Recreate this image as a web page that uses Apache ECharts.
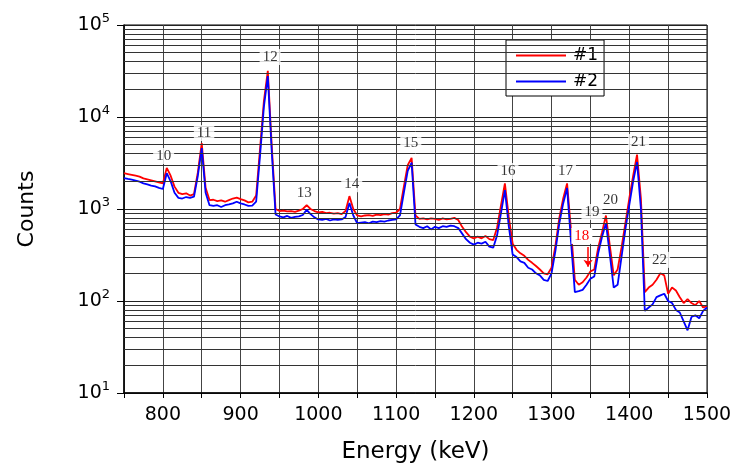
<!DOCTYPE html>
<html>
<head>
<meta charset="utf-8">
<script src="https://cdn.jsdelivr.net/npm/echarts@6/dist/echarts.min.js"></script>
<style>
  html, body { margin: 0; padding: 0; background: #fff; }
  #spectrum { width: 735px; height: 466px; }
</style>
</head>
<body>
<div id="spectrum"></div>
<script>
// energies in keV, 5 keV steps from 750 to 1500
const energy = [];
for (let e = 750; e <= 1500; e += 5) energy.push(e);

// counts, detector #1 (red)
const counts1 = [
  2450, 2400, 2350, 2300, 2250, 2150, 2100, 2050, 2000, 1950,
  1900, 2800, 2300, 1750, 1500, 1450, 1480, 1400, 1450, 2500,
  5200, 1700, 1250, 1260, 1220, 1240, 1200, 1250, 1300, 1330,
  1280, 1240, 1180, 1200, 1400, 4500, 15000, 31800, 5000, 1000,
  950, 960, 940, 950, 930, 960, 1000, 1100, 1000, 950,
  920, 930, 900, 910, 890, 900, 880, 950, 1380, 1000,
  850, 830, 850, 860, 840, 870, 860, 880, 870, 900,
  910, 1000, 1750, 3000, 3600, 850, 780, 790, 770, 790,
  780, 760, 790, 770, 780, 800, 760, 640, 560, 500,
  480, 500, 480, 510, 470, 460, 630, 1100, 1900, 820,
  420, 360, 330, 310, 280, 260, 240, 220, 200, 195,
  230, 400, 800, 1300, 1900, 600, 170, 150, 160, 180,
  210, 220, 380, 560, 850, 400, 190, 220, 380, 700,
  1300, 2300, 3900, 1300, 125, 140, 150, 170, 200, 190,
  120, 140, 130, 110, 95, 105, 95, 90, 100, 85,
  88
];

// detector #2 (blue)
const counts2 = [
  2170, 2120, 2080, 2030, 1980, 1900, 1850, 1800, 1760, 1700,
  1650, 2450, 2000, 1500, 1320, 1300, 1350, 1320, 1360, 2300,
  4600, 1500, 1100, 1080, 1100, 1050, 1100, 1120, 1150, 1200,
  1150, 1120, 1080, 1090, 1200, 3800, 13000, 27900, 4300, 870,
  830, 810, 840, 800, 820, 830, 860, 980, 880, 810,
  770, 760, 780, 750, 770, 760, 770, 820, 1160, 850,
  700, 710, 720, 700, 730, 720, 740, 730, 750, 760,
  770, 850, 1500, 2600, 3200, 680, 640, 620, 650, 600,
  640, 620, 650, 640, 660, 650, 620, 540, 470, 430,
  410, 430, 420, 440, 390, 380, 520, 900, 1600, 650,
  320, 300, 270, 260, 230, 220, 200, 190, 170, 165,
  200, 350, 700, 1150, 1690, 450, 125, 128, 132, 150,
  175, 185, 330, 500, 700, 320, 140, 150, 300, 600,
  1100, 2000, 3240, 1000, 78, 85, 92, 110, 115, 120,
  100, 95, 80, 75, 60, 48, 67, 70, 65, 78,
  85
];

// peak numbers and where their tags sit
const peakNames = ['10', '11', '12', '13', '14', '15', '16', '17', '19', '20', '21', '22'];
const peakTagE = [801, 853, 938, 982, 1043, 1119, 1244, 1318, 1352, 1376, 1412, 1439];
const peakTagY = [3770, 6700, 44900, 1490, 1860, 5200, 2590, 2590, 927, 1260, 5350, 280];

const minorLevels = [];
[10, 100, 1000, 10000].forEach(d => {
  for (let k = 2; k <= 9; k++) minorLevels.push(k * d);
});

const sans = 'DejaVu Sans, Arial';
const serif = 'Liberation Serif, Times New Roman';

let chart = echarts.init(document.getElementById('spectrum'));

const pair = (ys) => energy.map((e, i) => [e, ys[i]]);

let option = {
  animation: false,
  backgroundColor: '#fff',
  grid: {
    left: 124, right: 28, top: 25, bottom: 73,
    outerBoundsMode: 'none',
    show: true, borderColor: '#000', borderWidth: 1
  },
  legend: {
    orient: 'vertical',
    left: 506, top: 40,
    padding: [7, 6, 6, 10],
    itemGap: 9,
    icon: 'rect',
    itemWidth: 50,
    itemHeight: 2,
    backgroundColor: '#fff',
    borderColor: '#000',
    borderWidth: 1,
    textStyle: { fontFamily: sans, fontSize: 17, color: '#000', padding: [0, 0, 0, 2] },
    data: ['#1', '#2']
  },
  xAxis: {
    type: 'value',
    min: 750, max: 1500, interval: 50,
    name: 'Energy (keV)',
    nameLocation: 'middle',
    nameGap: 48,
    nameTextStyle: { fontFamily: sans, fontSize: 23, color: '#000' },
    axisLine: { lineStyle: { color: '#000', width: 1.5 } },
    axisTick: { show: true, length: 5, lineStyle: { color: '#000' } },
    axisLabel: {
      fontFamily: sans, fontSize: 19, color: '#000', margin: 13,
      formatter: v => (v % 100 === 0 ? String(v) : '')
    },
    splitLine: { show: true, lineStyle: { color: '#444', width: 1 } }
  },
  yAxis: {
    type: 'log',
    min: 10, max: 100000,
    name: 'Counts',
    nameLocation: 'middle',
    nameGap: 86,
    nameTextStyle: { fontFamily: sans, fontSize: 22, color: '#000' },
    axisLine: { lineStyle: { color: '#000', width: 1.5 } },
    axisTick: { show: true, length: 7, lineStyle: { color: '#000' } },
    axisLabel: {
      margin: 14,
      formatter: v => '{b|10}{e|' + Math.round(Math.log10(v)) + '}',
      rich: {
        b: { fontFamily: sans, fontSize: 19, color: '#000' },
        e: { fontFamily: sans, fontSize: 13, color: '#000', padding: [0, 0, 13, 0] }
      }
    },
    splitLine: { show: true, lineStyle: { color: '#222', width: 1 } }
  },
  series: [
    {
      name: '#1',
      type: 'line',
      data: pair(counts1),
      symbol: 'none',
      lineStyle: { color: '#ff0000', width: 1.8 },
      itemStyle: { color: '#ff0000' },
      markLine: {
        silent: true,
        symbol: 'none',
        label: { show: false },
        lineStyle: { color: '#333', width: 1, type: 'solid' },
        data: minorLevels.map(v => ({ yAxis: v }))
      },
      z: 3
    },
    {
      name: '#2',
      type: 'line',
      data: pair(counts2),
      symbol: 'none',
      lineStyle: { color: '#0000ff', width: 1.8 },
      itemStyle: { color: '#0000ff' },
      z: 4
    },
    {
      name: 'tags',
      type: 'scatter',
      data: peakTagE.map((e, i) => ({ value: [e, peakTagY[i]], name: peakNames[i] })),
      symbolSize: 0,
      label: {
        show: true,
        position: 'inside',
        formatter: p => p.name,
        fontFamily: serif,
        fontSize: 15,
        color: '#000',
        backgroundColor: '#fff',
        padding: [1, 3, 0, 3]
      },
      markPoint: {
        symbol: 'circle',
        symbolSize: 1,
        itemStyle: { color: 'rgba(0,0,0,0)' },
        label: {
          show: true,
          position: 'inside',
          formatter: '18',
          fontFamily: serif,
          fontSize: 15,
          color: '#ff0000',
          backgroundColor: '#fff',
          padding: [1, 3, 0, 3]
        },
        data: [{ coord: [1339, 510] }]
      },
      markLine: {
        silent: true,
        symbol: ['none', 'arrow'],
        symbolSize: 7,
        label: { show: false },
        lineStyle: { color: '#ff0000', width: 1.5, type: 'solid' },
        data: [[{ coord: [1347, 386] }, { coord: [1347, 235] }]]
      },
      z: 5
    }
  ]
};

chart.setOption(option);
</script>
</body>
</html>
